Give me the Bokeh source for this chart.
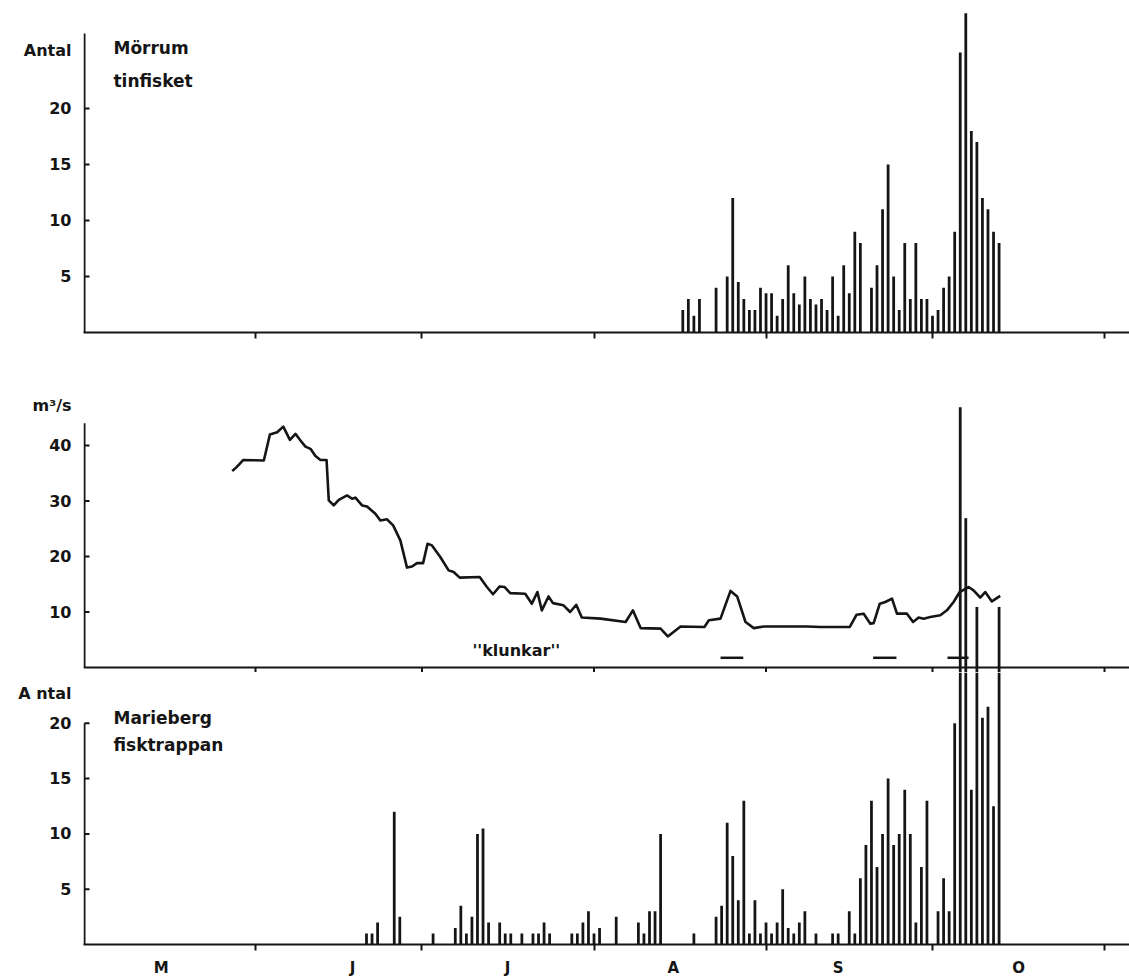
from bokeh.plotting import figure
from bokeh.layouts import column
from bokeh.models import Range1d, FixedTicker, Span, Label
from bokeh.embed import file_html
from bokeh.resources import INLINE

# ---------------------------------------------------------------------------
# Data. Time axis is days counted from 1 May (day 0).
# ---------------------------------------------------------------------------
month_starts = [31, 61, 92, 123, 153, 184]          # 1 Jun ... 1 Nov
month_label_pos = [14, 48.5, 76.4, 106.3, 136, 168.5]
month_letters = ["M", "J", "J", "A", "S", "O"]

count_ticks = [5, 10, 15, 20]
flow_ticks = [10, 20, 30, 40]

# Mörrum, tinfisket: daily catch (antal)
top_days = [108, 109, 110, 111, 114, 116, 117, 118, 119, 120, 121, 122, 123, 124,
            125, 126, 127, 128, 129, 130, 131, 132, 133, 134, 135, 136, 137, 138,
            139, 140, 142, 143, 144, 145, 146, 147, 148, 149, 150, 151, 152, 153,
            154, 155, 156, 157, 158, 159, 160, 161, 162, 163, 164, 165]
top_counts = [2, 3, 1.5, 3, 4, 5, 12, 4.5, 3, 2, 2, 4, 3.5, 3.5,
              1.5, 3, 6, 3.5, 2.5, 5, 3, 2.5, 3, 2, 5, 1.5, 6, 3.5,
              9, 8, 4, 6, 11, 15, 5, 2, 8, 3, 8, 3, 3, 1.5,
              2, 4, 5, 9, 25, 28.5, 18, 17, 12, 11, 9, 8]

# Discharge (m3/s)
flow_days = [26.8, 27.6, 28.8, 32.5, 33.6, 34.9, 36.0, 37.2, 38.2, 39.1, 40.0, 40.9,
             41.8, 42.7, 43.8, 44.2, 45.1, 46.0, 47.5, 48.4, 49.0, 50.2, 51.1, 52.6,
             53.5, 54.7, 55.8, 57.1, 58.3, 59.2, 60.1, 61.2, 62.0, 62.8, 64.3, 65.8,
             66.7, 67.8, 71.4, 72.7, 73.8, 75.0, 75.9, 76.9, 79.6, 80.8, 81.8, 82.6,
             83.8, 84.6, 86.5, 87.7, 88.8, 89.8, 93.2, 97.7, 99.0, 100.4, 104.0, 105.3,
             107.6, 111.9, 112.7, 114.8, 116.6, 117.8, 119.3, 120.8, 122.6, 130.4, 132.8,
             138.1, 139.3, 140.6, 141.8, 142.4, 143.5, 144.5, 145.7, 146.6, 148.4, 149.5,
             150.5, 151.4, 152.6, 154.4, 155.6, 156.8, 157.9, 159.5, 160.4, 161.6, 162.5,
             163.7, 165.2]
flow_m3s = [35.4, 36.1, 37.4, 37.3, 42.0, 42.4, 43.4, 41.0, 42.1, 40.9, 39.8, 39.4,
            38.1, 37.4, 37.4, 30.1, 29.2, 30.2, 31.0, 30.4, 30.6, 29.2, 29.0, 27.7,
            26.5, 26.7, 25.6, 22.9, 18.0, 18.2, 18.8, 18.8, 22.3, 22.0, 19.9, 17.5,
            17.2, 16.2, 16.3, 14.5, 13.2, 14.6, 14.5, 13.4, 13.3, 11.5, 13.6, 10.3,
            12.8, 11.6, 11.2, 10.0, 11.3, 9.0, 8.8, 8.2, 10.3, 7.1, 7.0, 5.6,
            7.4, 7.3, 8.5, 8.8, 13.8, 12.8, 8.2, 7.1, 7.4, 7.4, 7.3,
            7.3, 9.5, 9.7, 7.9, 8.0, 11.5, 11.8, 12.4, 9.7, 9.7, 8.2,
            9.0, 8.8, 9.1, 9.4, 10.3, 11.8, 13.6, 14.5, 13.9, 12.6, 13.6,
            11.9, 12.9]

# Periods with "klunkar"
klunkar_start = [114.8, 142.3, 155.7]
klunkar_end = [118.9, 146.5, 159.5]
klunkar_level = 1.75

# Marieberg, fisktrappan: daily count (antal)
bottom_days = [51, 52, 53, 56, 57, 63, 67, 68, 69, 70, 71, 72, 73, 75, 76, 77, 79, 81,
               82, 83, 84, 88, 89, 90, 91, 92, 93, 96, 100, 101, 102, 103, 104, 110,
               114, 115, 116, 117, 118, 119, 120, 121, 122, 123, 124, 125, 126, 127,
               128, 129, 130, 132, 135, 136, 138, 139, 140, 141, 142, 143, 144, 145,
               146, 147, 148, 149, 150, 151, 152, 154, 155, 156, 157, 158, 159, 160,
               161, 162, 163, 164, 165]
bottom_counts = [1, 1, 2, 12, 2.5, 1, 1.5, 3.5, 1, 2.5, 10, 10.5, 2, 2, 1, 1, 1, 1,
                 1, 2, 1, 1, 1, 2, 3, 1, 1.5, 2.5, 2, 1, 3, 3, 10, 1,
                 2.5, 3.5, 11, 8, 4, 13, 1, 4, 1, 2, 1, 2, 5, 1.5,
                 1, 2, 3, 1, 1, 1, 3, 1, 6, 9, 13, 7, 10, 15,
                 9, 10, 14, 10, 2, 7, 13, 3, 6, 3, 20, 48.5, 38.5, 14,
                 30.5, 20.5, 21.5, 12.5, 30.5]

# ---------------------------------------------------------------------------
# Panel geometry (pixels)
# ---------------------------------------------------------------------------
W = 1129
LEFT = 83
PX_PER_DAY = 5.549
X_END = (W - LEFT) / PX_PER_DAY
AX_X = 1.0 / PX_PER_DAY        # axis line sits 1 px inside the frame
TICK_LEN = 6.0 / PX_PER_DAY    # inward y ticks

TOP_H, TOP_BT, TOP_BB, TOP_PPU = 350, 5, 18, 11.2
MID_H, MID_BASE, MID_PPU = 322, 5, 5.55
BOT_H, BOT_BB, BOT_PPU = 307, 34, 11.1

FONT = "DejaVu Sans"
INK = "#151515"
BAR_W = 0.5


def panel(height, y_start, y_end, border_top, border_bottom, x_axis=True):
    p = figure(width=W, height=height,
               x_range=Range1d(0, X_END), y_range=Range1d(y_start, y_end),
               output_backend="svg", toolbar_location=None,
               x_axis_location="below" if x_axis else None,
               min_border_left=LEFT, min_border_right=0,
               min_border_top=border_top, min_border_bottom=border_bottom)
    p.outline_line_color = None
    p.grid.visible = False
    p.background_fill_color = "white"
    p.border_fill_color = "white"
    return p


def style_y(p, ticks, top, title, title_pos):
    """Vertical axis: line and inward ticks drawn in the frame, the tick labels
    and the panel's unit title come from the axis itself."""
    ax = p.yaxis[0]
    ax.ticker = FixedTicker(ticks=ticks + [title_pos])
    ax.major_label_overrides = {title_pos: title}
    ax.axis_line_color = None
    ax.major_tick_line_color = None
    ax.minor_tick_line_color = None
    ax.major_label_text_font = FONT
    ax.major_label_text_font_style = "bold"
    ax.major_label_text_font_size = "16px"
    ax.major_label_text_color = INK
    ax.major_label_standoff = 6
    p.segment(x0=[AX_X], y0=[0], x1=[AX_X], y1=[top], line_color=INK, line_width=2)
    p.segment(x0=[AX_X] * len(ticks), y0=ticks, x1=[TICK_LEN] * len(ticks), y1=ticks,
              line_color=INK, line_width=2)


def style_x(p):
    ax = p.xaxis[0]
    ax.axis_line_width = 2
    ax.axis_line_color = INK
    ax.major_tick_line_color = INK
    ax.major_tick_line_width = 2
    ax.minor_tick_line_color = INK
    ax.minor_tick_line_width = 2


def text(p, x, y, s, size="17px", align="left"):
    p.add_layout(Label(x=x, y=y, text=s, text_font=FONT, text_font_style="bold",
                       text_font_size=size, text_color=INK, text_align=align,
                       text_baseline="middle"))


# --- Mörrum, tinfisket ------------------------------------------------------
top_end = (TOP_H - TOP_BT - TOP_BB) / TOP_PPU
p_top = panel(TOP_H, 0, top_end, TOP_BT, TOP_BB)
p_top.vbar(x=top_days, top=top_counts, bottom=0, width=BAR_W,
           fill_color=INK, line_color=None)
style_y(p_top, count_ticks, 26.7, "Antal", 25.2)
style_x(p_top)
p_top.xaxis[0].ticker = FixedTicker(ticks=month_starts)
p_top.xaxis[0].major_label_overrides = {t: "" for t in month_starts}
p_top.xaxis[0].major_tick_in = 0
p_top.xaxis[0].major_tick_out = 6
p_top.xaxis[0].major_label_standoff = 0
text(p_top, 5.4, 25.4, "Mörrum")
text(p_top, 5.4, 22.5, "tinfisket")

# --- Discharge ----------------------------------------------------------------
mid_start = -MID_BASE / MID_PPU
mid_end = (MID_H - MID_BASE) / MID_PPU
p_mid = panel(MID_H, mid_start, mid_end, 0, 0, x_axis=False)
p_mid.line(flow_days, flow_m3s, line_color=INK, line_width=2.6, line_join="round")
p_mid.add_layout(Span(location=0, dimension="width", line_color=INK, line_width=2))
p_mid.segment(x0=month_starts, y0=[0] * len(month_starts), x1=month_starts,
              y1=[mid_start] * len(month_starts), line_color=INK, line_width=2)
p_mid.segment(x0=klunkar_start, y0=[klunkar_level] * 3, x1=klunkar_end,
              y1=[klunkar_level] * 3, line_color=INK, line_width=2.5)
style_y(p_mid, flow_ticks, 44, "m³/s", 47.2)
text(p_mid, 78.0, 3.1, "''klunkar''", size="16px", align="center")

# Marieberg bars that rise above their own panel continue through the
# discharge panel: convert their height into the discharge panel's units.
bot_frame_h = BOT_H - BOT_BB
bot_end = bot_frame_h / BOT_PPU
over_days, over_tops = [], []
for d, c in zip(bottom_days, bottom_counts):
    if c > bot_end:
        over_days.append(d)
        over_tops.append((c * BOT_PPU - bot_frame_h - MID_BASE) / MID_PPU)
p_mid.vbar(x=over_days, top=over_tops, bottom=mid_start, width=BAR_W,
           fill_color=INK, line_color=None)

# --- Marieberg, fisktrappan ---------------------------------------------------
p_bot = panel(BOT_H, 0, bot_end, 0, BOT_BB)
p_bot.vbar(x=bottom_days, top=bottom_counts, bottom=0, width=BAR_W,
           fill_color=INK, line_color=None)
style_y(p_bot, count_ticks, 20, "A ntal", 22.7)
style_x(p_bot)
bx = p_bot.xaxis[0]
bx.ticker = FixedTicker(ticks=month_label_pos, minor_ticks=month_starts)
bx.major_label_overrides = {t: m for t, m in zip(month_label_pos, month_letters)}
bx.major_tick_in = 0
bx.major_tick_out = 0
bx.minor_tick_in = 0
bx.minor_tick_out = 6
bx.major_label_standoff = 8
bx.major_label_text_font = FONT
bx.major_label_text_font_style = "bold"
bx.major_label_text_font_size = "15px"
bx.major_label_text_color = INK
text(p_bot, 5.4, 20.5, "Marieberg")
text(p_bot, 5.4, 18.0, "fisktrappan")

layout = column(p_top, p_mid, p_bot, spacing=0)

with open("out.html", "w") as f:
    f.write(file_html(layout, INLINE))
